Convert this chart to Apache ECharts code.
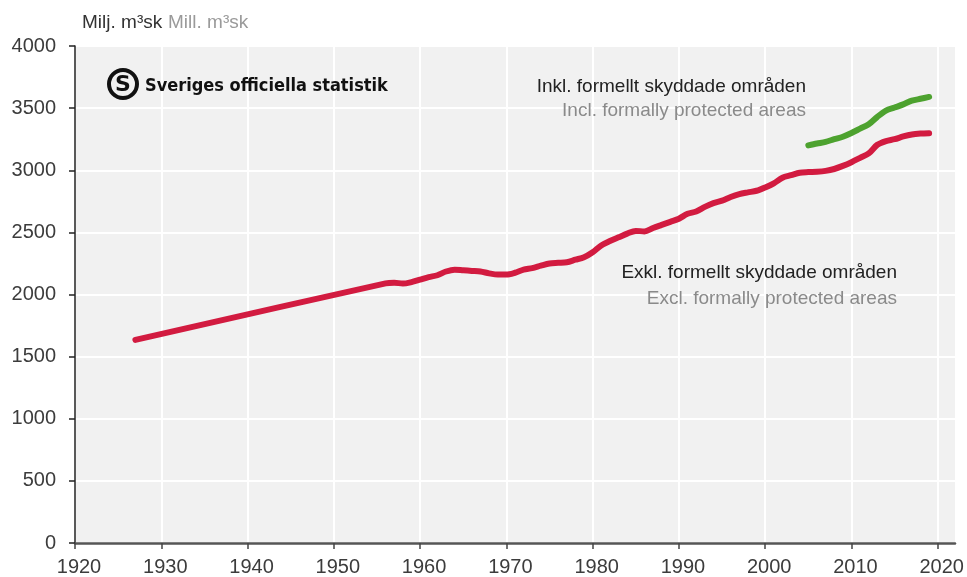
<!DOCTYPE html>
<html>
<head>
<meta charset="utf-8">
<script src="https://cdn.jsdelivr.net/npm/echarts@6/dist/echarts.min.js"></script>
<style>
html, body { margin: 0; padding: 0; background: #fff; }
#main { width: 967px; height: 577px; }
</style>
</head>
<body>
<div id="main"></div>
<script>
// Exkl. formellt skyddade områden (röd)
var exklYears = [1927, 1956, 1957, 1958, 1959, 1960, 1961, 1962, 1963, 1964, 1965, 1966, 1967, 1968, 1969,
    1970, 1971, 1972, 1973, 1974, 1975, 1976, 1977, 1978, 1979, 1980, 1981, 1982, 1983, 1984, 1985, 1986,
    1987, 1988, 1989, 1990, 1991, 1992, 1993, 1994, 1995, 1996, 1997, 1998, 1999, 2000, 2001, 2002, 2003,
    2004, 2005, 2006, 2007, 2008, 2009, 2010, 2011, 2012, 2013, 2014, 2015, 2016, 2017, 2018, 2019]
var exklValues = [1635, 2090, 2095, 2088, 2100, 2120, 2140, 2155, 2185, 2200, 2195, 2190, 2185, 2170, 2160,
    2160, 2175, 2200, 2212, 2232, 2250, 2255, 2260, 2280, 2300, 2340, 2395, 2430, 2460, 2490, 2512, 2508,
    2535, 2560, 2585, 2610, 2650, 2668, 2705, 2735, 2755, 2785, 2808, 2822, 2835, 2862, 2895, 2940, 2960,
    2980, 2985, 2988, 2995, 3010, 3035, 3065, 3100, 3135, 3205, 3235, 3250, 3272, 3288, 3295, 3298]
// Inkl. formellt skyddade områden (grön)
var inklYears = [2005, 2006, 2007, 2008, 2009, 2010, 2011, 2012, 2013, 2014, 2015, 2016, 2017, 2018, 2019]
var inklValues = [3200, 3215, 3228, 3250, 3270, 3300, 3335, 3370, 3430, 3480, 3505, 3530, 3560, 3575, 3590]
// axlar
var xTicks = [1920, 1930, 1940, 1950, 1960, 1970, 1980, 1990, 2000, 2010, 2020]

var font = '"Liberation Sans", Arial, sans-serif'

function pairs(xs, ys) {
    return xs.map(function (x, i) { return [x, ys[i]] })
}

function txt(x, y, text, color, size, align, extra) {
    var style = {
        text: text, fill: color, fontSize: size, fontFamily: font,
        align: align || 'left', verticalAlign: 'middle'
    }
    if (extra) Object.assign(style, extra)
    return { type: 'text', x: x, y: y, z: 100, style: style }
}

var myChart = echarts.init(document.getElementById('main'))
var option = {
    animation: false,
    backgroundColor: '#fff',
    grid: {
        left: 75,
        right: 12,
        top: 46,
        bottom: 33,
        show: true,
        backgroundColor: '#f1f1f1',
        borderWidth: 0
    },
    xAxis: {
        type: 'value',
        min: 1920,
        max: 2022,
        interval: 10,
        axisLine: { lineStyle: { color: '#555', width: 2.5 } },
        axisTick: { show: true, length: 6, customValues: xTicks, lineStyle: { color: '#444', width: 1.5 } },
        axisLabel: {
            customValues: xTicks,
            formatter: function (v) { return String(v) },
            color: '#3c3c3c', fontSize: 20, fontFamily: font, margin: 14,
            padding: [0, 0, 0, 8]
        },
        splitLine: { show: true, lineStyle: { color: '#fff', width: 2 } }
    },
    yAxis: {
        type: 'value',
        min: 0,
        max: 4000,
        interval: 500,
        axisLine: { show: true, lineStyle: { color: '#222', width: 1.5 } },
        axisTick: { show: true, length: 6, lineStyle: { color: '#222', width: 1.5 } },
        axisLabel: {
            formatter: function (v) { return String(v) },
            color: '#3c3c3c', fontSize: 20, fontFamily: font, margin: 19
        },
        splitLine: { show: true, lineStyle: { color: '#fff', width: 2 } }
    },
    graphic: [
        // enhet
        txt(82, 23, 'Milj. m³sk', '#333', 19),
        txt(168, 23, 'Mill. m³sk', '#9a9a9a', 19),
        // logga
        { type: 'circle', z: 100, shape: { cx: 123, cy: 84, r: 14 }, style: { fill: 'none', stroke: '#111', lineWidth: 4 } },
        { type: 'text', z: 100, x: 123, y: 85, style: { text: 'S', fill: '#111', fontSize: 22, fontWeight: 'bold', fontFamily: '"DejaVu Sans"', align: 'center', verticalAlign: 'middle' } },
        { type: 'text', z: 100, x: 145, y: 86, style: { text: 'Sveriges officiella statistik', fill: '#111', fontSize: 18, fontWeight: 'bold', fontFamily: '"DejaVu Sans Condensed", "Liberation Sans Narrow", sans-serif', align: 'left', verticalAlign: 'middle' } },
        // etiketter
        txt(806, 87, 'Inkl. formellt skyddade områden', '#222', 19, 'right'),
        txt(806, 111, 'Incl. formally protected areas', '#8a8a8a', 19, 'right'),
        txt(897, 273, 'Exkl. formellt skyddade områden', '#222', 19, 'right'),
        txt(897, 299, 'Excl. formally protected areas', '#8a8a8a', 19, 'right')
    ],
    series: [
        {
            name: 'Exkl. formellt skyddade områden',
            type: 'line',
            data: pairs(exklYears, exklValues),
            showSymbol: false,
            smooth: 0.3,
            lineStyle: { color: '#d21b40', width: 6, cap: 'round' }
        },
        {
            name: 'Inkl. formellt skyddade områden',
            type: 'line',
            data: pairs(inklYears, inklValues),
            showSymbol: false,
            smooth: 0.3,
            lineStyle: { color: '#4da22f', width: 6, cap: 'round' }
        }
    ]
}
myChart.setOption(option)
</script>
</body>
</html>
